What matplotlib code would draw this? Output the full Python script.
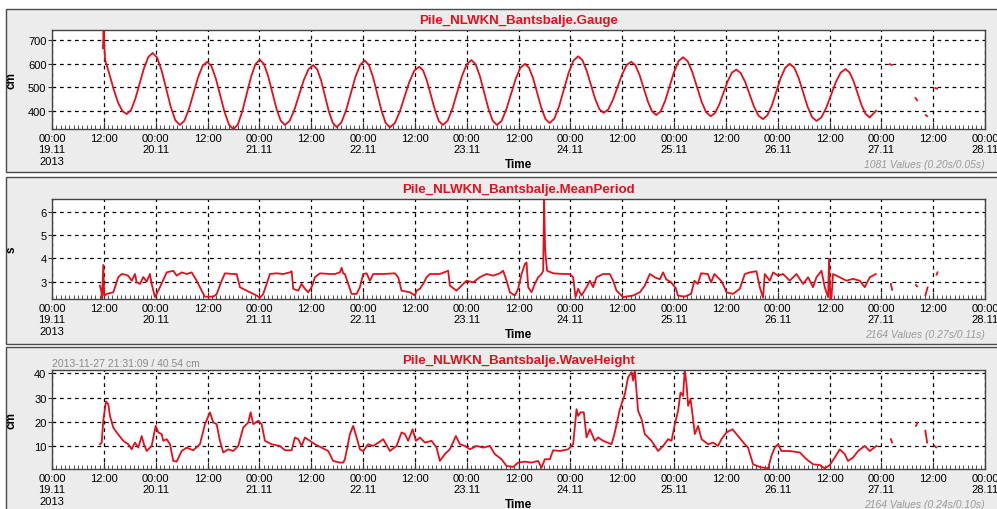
import datetime as dt
import numpy as np
import matplotlib
matplotlib.use('Agg')
import matplotlib.pyplot as plt
import matplotlib.dates as mdates
from matplotlib.patches import Rectangle
from matplotlib.ticker import FuncFormatter

plt.rcParams['font.family'] = ['Liberation Sans', 'DejaVu Sans']

start = dt.datetime(2013, 11, 19)
end = dt.datetime(2013, 11, 28)

# --- Gauge (cm), hours after 19.11 00:00 ---
gauge_hours = [11.8, 11.95, 12.05, 12.3, 13.3, 14.3, 15.3, 16.3, 17.3,
               18.3, 19.3, 20.3, 21.3, 22.3, 23.3,
               24.35, 25.4, 26.45, 27.5, 28.55, 29.6,
               30.65, 31.7, 32.75, 33.8, 34.85, 35.9,
               36.92, 37.93, 38.95, 39.97, 40.98, 42.0,
               43.02, 44.03, 45.05, 46.07, 47.08, 48.1,
               49.07, 50.03, 51.0, 51.97, 52.93, 53.9,
               55.0, 56.1, 57.2, 58.3, 59.4, 60.5,
               61.4, 62.3, 63.2, 64.1, 65.0, 65.9,
               66.98, 68.07, 69.15, 70.23, 71.32, 72.4,
               73.37, 74.33, 75.3, 76.27, 77.23, 78.2,
               79.33, 80.47, 81.6, 82.73, 83.87, 85.0,
               85.92, 86.83, 87.75, 88.67, 89.58, 90.5,
               91.6, 92.7, 93.8, 94.9, 96.0, 97.1,
               98.08, 99.07, 100.05, 101.03, 102.02, 103.0,
               104.08, 105.17, 106.25, 107.33, 108.42, 109.5,
               110.45, 111.4, 112.35, 113.3, 114.25, 115.2,
               116.3, 117.4, 118.5, 119.6, 120.7, 121.8,
               122.78, 123.77, 124.75, 125.73, 126.72, 127.7,
               128.77, 129.83, 130.9, 131.97, 133.03, 134.1,
               135.07, 136.03, 137.0, 137.97, 138.93, 139.9,
               140.93, 141.97, 143.0, 144.03, 145.07, 146.1,
               147.17, 148.23, 149.3, 150.37, 151.43, 152.5,
               153.48, 154.47, 155.45, 156.43, 157.42, 158.4,
               159.43, 160.47, 161.5, 162.53, 163.57, 164.6,
               165.63, 166.67, 167.7, 168.73, 169.77, 170.8,
               171.83, 172.87, 173.9, 174.93, 175.97, 177.0,
               178.12, 179.23, 180.35, 181.47, 182.58, 183.7,
               184.63, 185.57, 186.5, 187.43, 188.37, 189.3,
               190.8, 192.0, 194.0, 194.4, 197.0, 199.9, 200.3, 201.0,
               202.3, 202.6, 203.5, 204.5, 204.9]
gauge_cm = [665, 740, 700, 615, 555, 490, 435, 400, 387,
            404, 452, 516, 581, 628, 645,
            625, 569, 493, 417, 361, 341,
            359, 408, 475, 541, 590, 608,
            589, 537, 466, 394, 342, 323,
            343, 397, 470, 544, 597, 617,
            598, 548, 479, 410, 360, 341,
            358, 404, 468, 531, 577, 594,
            576, 529, 463, 398, 350, 332,
            351, 402, 473, 543, 594, 613,
            594, 543, 472, 402, 350, 331,
            348, 395, 459, 523, 570, 587,
            571, 526, 464, 403, 357, 341,
            359, 410, 478, 547, 597, 615,
            597, 547, 478, 410, 359, 341,
            358, 406, 470, 535, 582, 599,
            582, 537, 474, 412, 366, 349,
            368, 420, 490, 561, 612, 631,
            615, 571, 512, 452, 408, 392,
            406, 446, 500, 554, 594, 608,
            593, 552, 496, 439, 398, 383,
            399, 444, 505, 566, 611, 627,
            610, 565, 503, 440, 395, 378,
            391, 427, 477, 526, 562, 575,
            561, 523, 471, 418, 380, 366,
            382, 424, 483, 541, 583, 599,
            583, 539, 479, 418, 374, 358,
            373, 413, 468, 522, 562, 577,
            563, 526, 475, 424, 387, 373,
            401, np.nan, 598, 594, np.nan, 455, 445, np.nan,
            383, 378, np.nan, 497, 494]

# --- MeanPeriod (s) ---
period_hours = [11.1, 11.4, 11.6, 11.87, 12.1, 12.66, 14.19, 15.34, 16.13, 17.0,
                17.6, 18.45, 19.2, 19.6, 20.37, 21.13, 21.92, 22.68, 23.07, 23.84,
                25.0, 26.55, 28.07, 28.86, 30.02, 31.17, 32.33, 33.49, 34.65, 35.41,
                37.33, 38.12, 39.28, 40.04, 41.96, 42.75, 43.51, 45.06, 47.38, 48.14,
                48.9, 49.69, 50.45, 52.0, 53.53, 55.08, 55.48, 55.85, 57.0, 57.79,
                58.55, 59.32, 60.1, 60.87, 62.03, 64.34, 65.5, 66.65, 67.05, 67.42,
                67.81, 68.58, 69.36, 70.52, 71.28, 72.05, 72.83, 73.6, 74.36, 76.68,
                79.38, 80.15, 80.93, 82.86, 84.01, 84.41, 85.17, 85.93, 86.72, 87.48,
                89.8, 91.72, 92.11, 93.66, 95.19, 95.98, 97.51, 99.04, 100.6, 102.13,
                103.69, 104.45, 105.24, 106.0, 107.16, 107.92, 108.71, 109.47, 109.86, 110.24,
                111.02, 111.78, 112.55, 113.34, 113.71, 113.94, 114.15, 114.33, 114.63, 116.02,
                118.34, 119.89, 120.65, 121.2, 121.81, 122.6, 123.75, 124.52, 125.28, 126.07,
                127.59, 129.14, 129.91, 130.69, 132.22, 134.54, 136.09, 137.24, 138.4, 139.56,
                140.72, 141.48, 142.2, 143.33, 144.49, 144.88, 146.41, 147.96, 148.72, 149.51,
                150.27, 151.82, 152.59, 153.35, 154.9, 155.66, 156.15, 157.68, 159.23, 160.39,
                161.54, 163.09, 163.86, 164.62, 165.02, 166.17, 166.94, 168.09, 169.25, 170.8,
                172.35, 173.88, 175.04, 176.19, 176.98, 178.14, 178.9, 179.67, 179.9, 180.2,
                180.45, 180.82, 182.37, 183.92, 185.45, 187.0, 188.16, 189.32, 190.71,
                192.0, 194.2, 194.5, 197.0, 200.0, 200.3, 201.0, 202.2, 202.7, 203.5,
                204.8, 205.0]
period_s = [2.83, 2.6, 2.25, 3.72, 2.4, 2.47, 2.54, 3.19, 3.33, 3.3,
            3.26, 3.04, 3.33, 2.97, 2.9, 3.2, 3.0, 3.33, 2.9, 2.33,
            2.76, 3.4, 3.47, 3.26, 3.4, 3.33, 3.4, 3.04, 2.61, 2.35,
            2.35, 2.46, 3.04, 3.36, 3.33, 3.33, 2.76, 2.61, 2.4, 2.3,
            2.47, 2.9, 3.33, 3.36, 3.33, 3.4, 3.45, 2.69, 2.61, 2.9,
            2.69, 2.54, 2.76, 3.19, 3.36, 3.33, 3.33, 3.4, 3.6, 3.35,
            3.33, 2.9, 2.47, 2.47, 2.76, 3.33, 3.36, 3.04, 3.33, 3.33,
            3.36, 3.19, 2.61, 2.54, 2.4, 2.61, 2.69, 2.9, 3.19, 3.33,
            3.33, 3.47, 2.83, 2.61, 2.9, 3.04, 2.97, 3.19, 3.33, 3.26,
            3.36, 3.47, 3.04, 2.54, 2.4, 2.69, 3.33, 3.76, 3.83, 2.76,
            2.54, 2.9, 3.19, 3.33, 3.47, 6.55, 4.5, 4.0, 3.47, 3.36,
            3.33, 3.33, 3.19, 2.33, 2.69, 2.4, 2.76, 3.04, 2.76, 3.19,
            3.33, 3.33, 3.04, 2.61, 2.33, 2.4, 2.54, 2.83, 3.33, 3.19,
            3.1, 3.4, 3.1, 2.97, 2.69, 2.4, 2.35, 2.47, 3.04, 2.9,
            3.36, 3.33, 2.97, 3.33, 3.04, 2.76, 2.54, 2.47, 2.69, 3.33,
            3.4, 3.45, 2.76, 2.3, 3.33, 3.04, 3.4, 3.26, 3.33, 3.04,
            3.33, 2.9, 3.19, 2.76, 3.19, 3.47, 2.76, 2.33, 3.98, 2.25,
            2.3, 3.33, 3.19, 3.04, 3.12, 3.04, 2.76, 3.19, 3.33,
            np.nan, 2.9, 2.65, np.nan, 2.85, 2.8, np.nan, 2.4, 2.75, np.nan,
            3.3, 3.4]

# --- WaveHeight (cm) ---
wave_hours = [11.1, 11.5, 11.87, 12.5, 13.03, 13.42, 14.19, 14.97, 16.5, 17.66,
              18.45, 19.2, 19.97, 20.76, 21.29, 21.92, 23.07, 24.0, 24.6, 25.39,
              25.76, 26.55, 27.31, 28.07, 28.86, 30.02, 31.17, 32.7, 34.25, 35.41,
              36.57, 37.33, 38.12, 38.88, 39.65, 40.8, 41.96, 43.12, 44.27, 45.43,
              45.99, 46.59, 47.75, 48.53, 49.3, 50.85, 52.77, 53.93, 55.48, 56.24,
              57.0, 57.79, 58.55, 59.71, 60.87, 62.42, 63.95, 65.1, 66.0, 66.65,
              67.42, 67.81, 68.2, 68.97, 69.73, 70.52, 71.28, 72.05, 73.2, 74.36,
              75.91, 76.68, 78.23, 79.77, 80.93, 81.7, 82.46, 83.48, 84.24, 85.17,
              86.33, 87.88, 89.04, 89.8, 90.96, 92.11, 93.5, 94.43, 95.59, 96.74,
              98.29, 99.82, 101.37, 102.53, 104.08, 105.24, 106.77, 107.92, 109.47, 111.02,
              112.55, 113.34, 114.1, 115.26, 116.02, 117.57, 119.49, 120.65, 121.44, 121.81,
              122.36, 123.12, 123.75, 124.52, 125.67, 126.43, 127.59, 129.54, 130.3, 131.46,
              132.62, 133.38, 134.17, 134.54, 134.93, 135.69, 136.48, 137.24, 138.8, 140.32,
              141.48, 142.64, 143.42, 144.19, 144.95, 145.51, 146.1, 146.49, 146.9, 147.27,
              147.82, 148.28, 148.82, 149.58, 150.37, 151.89, 153.05, 154.21, 154.99, 156.15,
              157.54, 158.84, 160.39, 161.15, 162.31, 163.86, 165.78, 166.56, 167.33, 168.09,
              168.88, 170.8, 173.12, 174.67, 176.19, 177.75, 178.9, 180.06, 181.22, 182.37,
              183.53, 184.29, 185.45, 186.61, 188.16, 189.32, 190.87,
              192.0, 194.2, 194.5, 197.0, 200.0, 200.4, 201.0, 202.2, 202.6, 203.5,
              204.3, 204.7]
wave_cm = [10.7, 11.4, 20.4, 28.4, 27.3, 22.4, 17.6, 15.6, 12.1, 10.7,
           8.6, 11.4, 9.3, 14.1, 10.7, 7.9, 10.0, 18.3, 15.6, 14.9,
           12.1, 12.8, 10.7, 3.8, 3.5, 7.9, 9.3, 8.2, 10.7, 19.0,
           23.9, 19.7, 19.0, 12.1, 7.3, 8.6, 7.9, 10.0, 17.6, 19.7,
           23.9, 19.0, 20.4, 19.0, 12.1, 10.7, 10.0, 8.2, 8.2, 13.5,
           12.8, 10.0, 13.5, 12.1, 10.7, 9.3, 7.9, 3.8, 3.4, 3.1,
           3.1, 4.5, 7.9, 14.9, 18.3, 13.5, 8.6, 7.9, 10.7, 10.0,
           11.8, 12.8, 7.9, 10.0, 15.6, 14.9, 12.1, 16.9, 12.1, 13.5,
           11.4, 12.1, 9.3, 3.8, 6.6, 8.6, 14.1, 10.7, 10.0, 8.6,
           10.0, 9.3, 10.0, 6.6, 4.5, 1.7, 1.3, 3.1, 3.5, 3.1,
           3.8, 1.0, 4.5, 4.5, 8.2, 7.9, 8.6, 10.7, 25.2, 22.4,
           23.9, 23.9, 13.5, 16.9, 12.1, 13.5, 12.1, 10.7, 15.6, 25.2,
           31.4, 38.4, 40.5, 37.0, 41.4, 24.5, 21.1, 14.9, 12.1, 7.9,
           10.0, 12.8, 12.1, 19.0, 24.5, 32.1, 30.7, 41.4, 35.6, 26.6,
           29.4, 23.1, 14.9, 18.3, 12.8, 10.7, 11.4, 10.0, 12.8, 15.6,
           16.9, 14.1, 10.7, 9.3, 2.4, 1.3, 0.7, 5.9, 9.3, 10.7,
           7.9, 7.9, 7.3, 4.5, 2.4, 2.1, 0.7, 2.1, 5.2, 8.6,
           6.6, 3.8, 5.2, 7.9, 10.0, 7.9, 10.0,
           np.nan, 12.8, 11.4, np.nan, 18.3, 19.6, np.nan, 16.3, 11.4, np.nan,
           10.0, 9.4]

panels = [
    dict(title='Pile_NLWKN_Bantsbalje.Gauge', unit='cm', hours=gauge_hours, vals=gauge_cm,
         ylim=(324, 742), yticks=[400, 500, 600, 700], note='1081 Values (0.20s/0.05s)'),
    dict(title='Pile_NLWKN_Bantsbalje.MeanPeriod', unit='s', hours=period_hours, vals=period_s,
         ylim=(2.25, 6.57), yticks=[3, 4, 5, 6], note='2164 Values (0.27s/0.11s)'),
    dict(title='Pile_NLWKN_Bantsbalje.WaveHeight', unit='cm', hours=wave_hours, vals=wave_cm,
         ylim=(0.46, 41.4), yticks=[10, 20, 30, 40], note='2164 Values (0.24s/0.10s)'),
]

W, H = 997, 510
# pixel layout: (box top, box bottom, axes top, axes bottom)
layout = [(10, 173, 31, 130), (178, 345, 200, 300), (348, 514, 371, 470)]
ax_left, ax_right = 52, 985


def time_label(x, pos):
    d = mdates.num2date(x)
    h = round(d.hour + d.minute / 60.0)
    if h == 12:
        return '12:00'
    d = d + dt.timedelta(minutes=30)
    lab = '00:00\n' + d.strftime('%d.%m')
    if d.day == 19:
        lab += '\n2013'
    return lab


fig = plt.figure(figsize=(W / 100, H / 100), dpi=100)
fig.patch.set_facecolor('white')

red = '#e3101c'
axes = []
for p, (bt, bb, at, ab) in zip(panels, layout):
    # grey panel behind each chart
    fig.patches.append(Rectangle((6 / W, 1 - bb / H), 1.0, (bb - bt) / H, transform=fig.transFigure,
                                 facecolor='#ececec', edgecolor='#4a4a4a', linewidth=1.0, zorder=-5))
    ax = fig.add_axes([ax_left / W, 1 - ab / H, (ax_right - ax_left) / W, (ab - at) / H])
    ax.set_zorder(2)
    ax.set_facecolor('white')

    t = np.datetime64('2013-11-19T00:00') + (np.array(p['hours']) * 3600).astype('timedelta64[s]')
    ax.plot(t, p['vals'], color=red, linewidth=1.3)

    ax.set_xlim(start, end)
    ax.set_ylim(*p['ylim'])
    ax.set_yticks(p['yticks'])
    ax.xaxis.set_major_locator(mdates.HourLocator(byhour=[0, 12]))
    ax.xaxis.set_minor_locator(mdates.HourLocator())
    ax.xaxis.set_major_formatter(FuncFormatter(time_label))
    ax.grid(True, which='major', color='black', linestyle=(0, (3, 3)), linewidth=0.9)

    ax.tick_params(axis='x', which='major', direction='in', length=5, pad=3, labelsize=8, color='#333')
    ax.tick_params(axis='x', which='minor', direction='in', length=3, color='#333')
    ax.tick_params(axis='y', which='major', direction='out', length=3, pad=1, labelsize=8, color='#333')
    for s in ax.spines.values():
        s.set_color('#444')
        s.set_linewidth(1.0)

    ax.annotate(p['title'], xy=(0.5, 1), xycoords='axes fraction', xytext=(0, 7.5),
                textcoords='offset points', ha='center', va='center',
                color=red, fontsize=9.5, fontweight='bold')
    ax.annotate('Time', xy=(0.5, 0), xycoords='axes fraction', xytext=(0, -25),
                textcoords='offset points', ha='center', va='center',
                fontsize=8.5, fontweight='bold')
    ax.annotate(p['note'], xy=(1, 0), xycoords='axes fraction', xytext=(0, -25),
                textcoords='offset points', ha='right', va='center',
                fontsize=7.5, style='italic', color='#9a9a9a')
    ax.annotate(p['unit'], xy=(0, 0.5), xycoords='axes fraction', xytext=(-29, 0),
                textcoords='offset points', ha='center', va='center', rotation=90,
                fontsize=8.5, fontweight='bold')
    axes.append(ax)

axes[2].annotate('2013-11-27 21:31:09 / 40.54 cm', xy=(0, 1), xycoords='axes fraction',
                 xytext=(0, 5), textcoords='offset points', ha='left', va='center',
                 fontsize=7.5, color='#8a8a8a')

fig.canvas.draw()
for ax in axes:
    for tk in ax.xaxis.get_major_ticks():
        tk.label1.set_linespacing(1.15)

fig.savefig('out.png', dpi=100)
